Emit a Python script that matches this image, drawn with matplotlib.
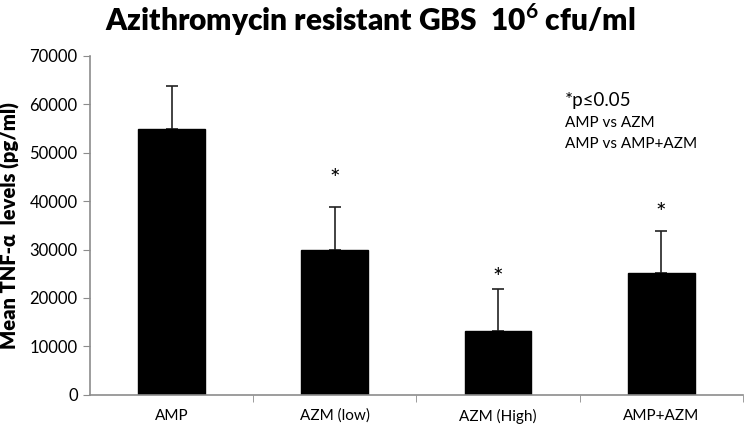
import numpy as np
import matplotlib
matplotlib.use("Agg")
import matplotlib.pyplot as plt

# Datos ──────────────────────────────────────────────
grupos = ["AMP", "AZM (low)", "AZM (High)", "AMP+AZM"]
medias = [55000, 30000, 13200, 25100]
sd     = [8800, 8700, 8700, 8700]
signif = [False, True, True, True]
star_y = [0, 44500, 24000, 37500]   # altura del asterisco (posición del texto)

plt.rcParams["font.family"] = ["Lato", "DejaVu Sans"]
plt.rcParams["mathtext.fontset"] = "custom"
plt.rcParams["mathtext.rm"] = "Lato:bold"
plt.rcParams["mathtext.bf"] = "Lato:bold"

gris = "#8c8c8c"

fig = plt.figure(figsize=(7.45, 4.30), dpi=100)
ax = fig.add_axes([0.121, 0.082, 0.876, 0.788])

x = np.arange(len(grupos))
ax.bar(x, medias, width=0.41, color="black", edgecolor="black", zorder=2)
ax.errorbar(x, medias, yerr=[np.zeros(len(sd)), sd], fmt="none",
            ecolor="#222222", elinewidth=1.2, capsize=4, capthick=1.2, zorder=1)

for xi, s, yy in zip(x, signif, star_y):
    if s:
        ax.text(xi, yy, "*", ha="center", va="center", fontsize=18)

ax.set_xlim(-0.5, 3.5)
ax.set_ylim(0, 70000)
ax.set_yticks(np.arange(0, 70001, 10000))
ax.set_xticks(x)
ax.set_xticklabels(grupos, fontsize=11)
ax.set_xticks(np.arange(0.5, 3.6, 1), minor=True)
ax.tick_params(axis="x", which="major", length=0, pad=10, colors="black")
ax.tick_params(axis="x", which="minor", length=5, color=gris)
ax.tick_params(axis="y", length=5, color=gris, labelsize=12, pad=4)

for lado in ["top", "right"]:
    ax.spines[lado].set_visible(False)
for lado in ["left", "bottom"]:
    ax.spines[lado].set_color(gris)
    ax.spines[lado].set_linewidth(1.2)

ax.set_ylabel("Mean TNF-α  levels (pg/ml)", fontsize=14.5, fontweight="heavy", labelpad=7)

fig.text(0.497, 0.955, r"Azithromycin resistant GBS  10$^6$ cfu/ml",
         ha="center", va="center", fontsize=21.5, fontweight="heavy")

ax.text(0.728, 0.853, "*p≤0.05", transform=ax.transAxes, fontsize=13.5)
ax.text(0.728, 0.790, "AMP vs AZM", transform=ax.transAxes, fontsize=11)
ax.text(0.728, 0.727, "AMP vs AMP+AZM", transform=ax.transAxes, fontsize=11)

plt.savefig("out.png", dpi=100)
plt.close()
